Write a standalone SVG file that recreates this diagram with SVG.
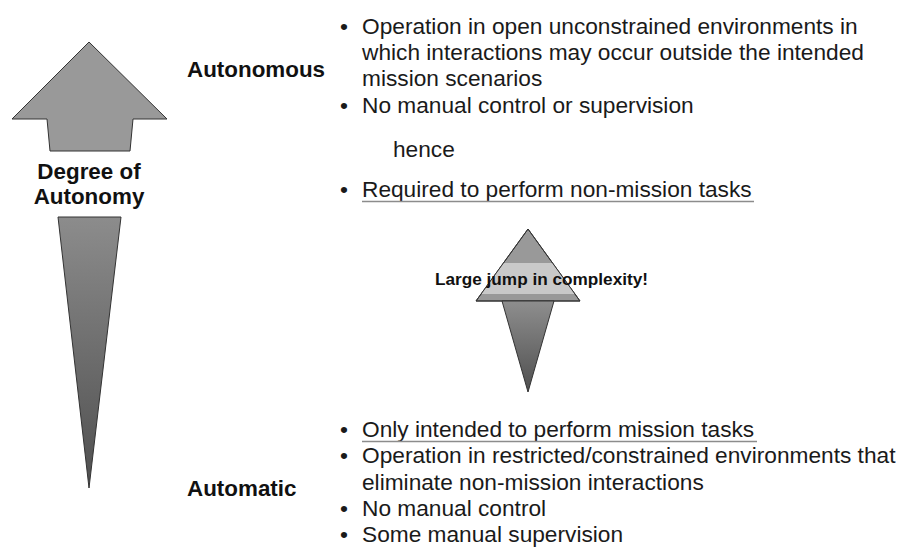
<svg xmlns="http://www.w3.org/2000/svg" width="912" height="547" viewBox="0 0 912 547">
  <style>
    .body { font-family: "Liberation Sans", Arial, sans-serif; font-size: 22.7px; fill: #1a1a1a; }
    .label { font-family: "Liberation Sans", Arial, sans-serif; font-weight: bold; font-size: 22.4px; fill: #111; }
    .jump { font-family: "Liberation Sans", Arial, sans-serif; font-weight: bold; font-size: 17.2px; fill: #111; }
    .shape { stroke: #333; stroke-width: 1; stroke-linejoin: miter; }
    .uline { stroke: #8c8c8c; stroke-width: 1.5; }
  </style>
  <defs>
    <linearGradient id="shaftGrad" x1="0" y1="0" x2="0" y2="1">
      <stop offset="0" stop-color="#8c8c8c"/>
      <stop offset="1" stop-color="#4f4f4f"/>
    </linearGradient>
    <linearGradient id="midShaftGrad" gradientUnits="userSpaceOnUse" x1="0" y1="301" x2="0" y2="392">
      <stop offset="0" stop-color="#8e8e8e"/>
      <stop offset="1" stop-color="#4f4f4f"/>
    </linearGradient>
    <clipPath id="midHeadClip">
      <polygon points="528,229 580,301 476,301"/>
    </clipPath>
  </defs>

  <!-- Degree of autonomy scale on the left -->
  <g id="autonomy-scale">
    <polygon class="shape" fill="#999999" points="89,42 167,119 133,119 130,151 50,151 47,119 12,119"/>
    <polygon class="shape" fill="url(#shaftGrad)" points="58,217 121,217 89,488"/>
    <text class="label" text-anchor="middle" x="89" y="179">Degree of</text>
    <text class="label" text-anchor="middle" x="89" y="204">Autonomy</text>
  </g>

  <!-- Autonomous level -->
  <g id="autonomous">
    <text class="label" x="187" y="77">Autonomous</text>
    <text class="body" x="340" y="34">•</text>
    <text class="body" x="362" y="34">Operation in open unconstrained environments in</text>
    <text class="body" x="362" y="60">which interactions may occur outside the intended</text>
    <text class="body" x="362" y="86">mission scenarios</text>
    <text class="body" x="340" y="113">•</text>
    <text class="body" x="362" y="113">No manual control or supervision</text>
    <text class="body" x="393" y="157">hence</text>
    <text class="body" x="340" y="197">•</text>
    <text class="body" x="362" y="197">Required to perform non-mission tasks</text>
    <line class="uline" x1="362" y1="201.5" x2="754" y2="201.5"/>
  </g>

  <!-- Complexity jump marker -->
  <g id="complexity-jump">
    <polygon class="shape" fill="#999999" points="528,229 580,301 476,301"/>
    <rect x="470" y="263" width="116" height="31" fill="#c9c9c9" clip-path="url(#midHeadClip)"/>
    <polygon fill="none" stroke="#333" stroke-width="1" points="528,229 580,301 476,301"/>
    <polygon class="shape" fill="url(#midShaftGrad)" points="502,301 554,301 528,392"/>
    <text class="jump" x="435" y="285">Large jump in complexity!</text>
  </g>

  <!-- Automatic level -->
  <g id="automatic">
    <text class="label" x="187" y="496">Automatic</text>
    <text class="body" x="340" y="437">•</text>
    <text class="body" x="362" y="437">Only intended to perform mission tasks</text>
    <line class="uline" x1="362" y1="441.5" x2="757" y2="441.5"/>
    <text class="body" x="340" y="463">•</text>
    <text class="body" x="362" y="463">Operation in restricted/constrained environments that</text>
    <text class="body" x="362" y="490">eliminate non-mission interactions</text>
    <text class="body" x="340" y="516">•</text>
    <text class="body" x="362" y="516">No manual control</text>
    <text class="body" x="340" y="542">•</text>
    <text class="body" x="362" y="542">Some manual supervision</text>
  </g>
</svg>
